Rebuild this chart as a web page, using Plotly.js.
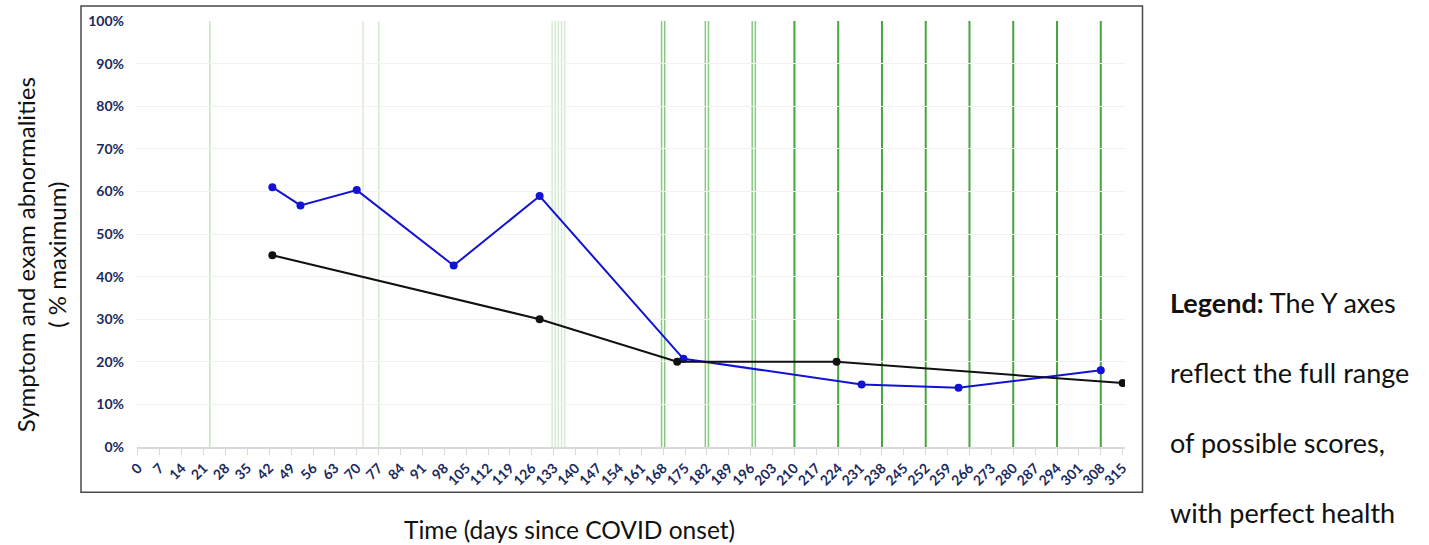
<!DOCTYPE html>
<html>
<head>
<meta charset="utf-8">
<script src="https://cdn.plot.ly/plotly-3.0.1.min.js"></script>
<style>
html,body{margin:0;padding:0;background:#fff;}
#chart{width:1429px;height:545px;}
</style>
</head>
<body>
<div id="chart"></div>
<script>
// ---- data ----
const tickDays = [0,7,14,21,28,35,42,49,56,63,70,77,84,91,98,105,112,119,126,133,140,147,154,161,168,175,182,189,196,203,210,217,224,231,238,245,252,259,266,273,280,287,294,301,308,315];
const tickLabels = tickDays.map(String);
const yTicks = [0,10,20,30,40,50,60,70,80,90,100];
const yTickLabels = ["0%","10%","20%","30%","40%","50%","60%","70%","80%","90%","100%"];

const blueDays = [43, 52, 70, 101, 128.5, 174.5, 231.5, 262.5, 308];
const blueValues = [61.0, 56.7, 60.3, 42.6, 58.9, 20.7, 14.7, 13.9, 18.0];

const blackDays = [43, 128.5, 172.5, 223.5, 315];
const blackValues = [45, 30, 20, 20, 15];

// vertical event lines (days)
const faintLineDays = [23, 72, 77, 132.5, 133.5, 134.5, 135.5, 136.5];
const pairLineDays = [167.5, 168.5, 181.5, 182.5, 196.5, 197.5];
const solidLineDays = [210, 224, 238, 252, 266, 280, 294, 308];

const yTitleText = "Symptom and exam abnormalities<br>( % maximum)";
const xTitleText = "Time (days since COVID onset)";
const legendLines = ["<b>Legend:</b> The Y axes", "reflect the full range", "of possible scores,", "with perfect health"];

// ---- build ----
const navy = "#1b2a5e";
const FONT = "Lato, 'Open Sans', sans-serif";

const shapes = [];
function vline(d, color, width){
  shapes.push({type:"line", xref:"x", yref:"paper", x0:d, x1:d, y0:0, y1:1,
    line:{color:color, width:width}, layer:"below"});
}
faintLineDays.forEach((d,i)=>vline(d, i===0 ? "rgba(150,205,140,0.55)" : "rgba(150,205,140,0.4)", 1.5));
pairLineDays.forEach(d=>vline(d, "rgba(95,180,85,0.75)", 1.5));
solidLineDays.forEach(d=>vline(d, "rgb(70,165,60)", 2));

// outer box
const L = 137, R = 1125, T = 21, B = 446.7, W = R-L, H = B-T;
const px = x => (x-L)/W;
const py = y => (B-y)/H;
shapes.push({type:"rect", xref:"paper", yref:"paper",
  x0:px(81), x1:px(1142.5), y0:py(492), y1:py(6),
  line:{color:"#4a4a4a", width:1.5}, fillcolor:"rgba(0,0,0,0)", layer:"above"});

const annotations = [
  {xref:"paper", yref:"paper", x:px(41), y:py(255), text:yTitleText, showarrow:false,
   textangle:-90, xanchor:"center", yanchor:"middle", align:"center",
   font:{family:FONT, size:24, color:"#111"}},
  {xref:"paper", yref:"paper", x:px(569), y:py(529), text:xTitleText, showarrow:false,
   xanchor:"center", yanchor:"middle", font:{family:FONT, size:24.5, color:"#111"}}
];
const legendY = [302, 372, 442, 512];
legendLines.forEach((t,i)=>annotations.push({xref:"paper", yref:"paper", x:px(1168), y:py(legendY[i]),
  text:t, showarrow:false, xanchor:"left", yanchor:"middle", align:"left",
  font:{family:FONT, size:27, color:"#111"}}));

const traces = [
  {x:blueDays, y:blueValues, type:"scatter", mode:"lines+markers",
   line:{color:"#1212d4", width:2}, marker:{color:"#1212d4", size:8}, hoverinfo:"skip"},
  {x:blackDays, y:blackValues, type:"scatter", mode:"lines+markers",
   line:{color:"#111111", width:2}, marker:{color:"#111111", size:8}, hoverinfo:"skip"}
];

const layout = {
  width:1429, height:545,
  margin:{l:L, r:1429-R, t:T, b:545-B, pad:0},
  paper_bgcolor:"#fff", plot_bgcolor:"#fff",
  showlegend:false,
  xaxis:{range:[-0.3, 315.75], tickvals:tickDays, ticktext:tickLabels, tickangle:-45,
    showgrid:false, zeroline:false, showline:true, linecolor:"#d9d9d9", linewidth:1.5,
    ticks:"outside", ticklen:6, tickcolor:"#d9d9d9", tickwidth:1,
    tickfont:{family:FONT, size:14, color:navy, weight:"bold"}, fixedrange:true},
  yaxis:{range:[0,100], tickvals:yTicks, ticktext:yTickLabels,
    showgrid:true, gridcolor:"#f1f1f1", gridwidth:1, zeroline:false, showline:false,
    ticks:"", ticklabelstandoff:12,
    tickfont:{family:FONT, size:14, color:navy, weight:"bold"}, fixedrange:true},
  shapes:shapes, annotations:annotations
};

Plotly.newPlot("chart", traces, layout, {displayModeBar:false, staticPlot:true});
</script>
</body>
</html>
